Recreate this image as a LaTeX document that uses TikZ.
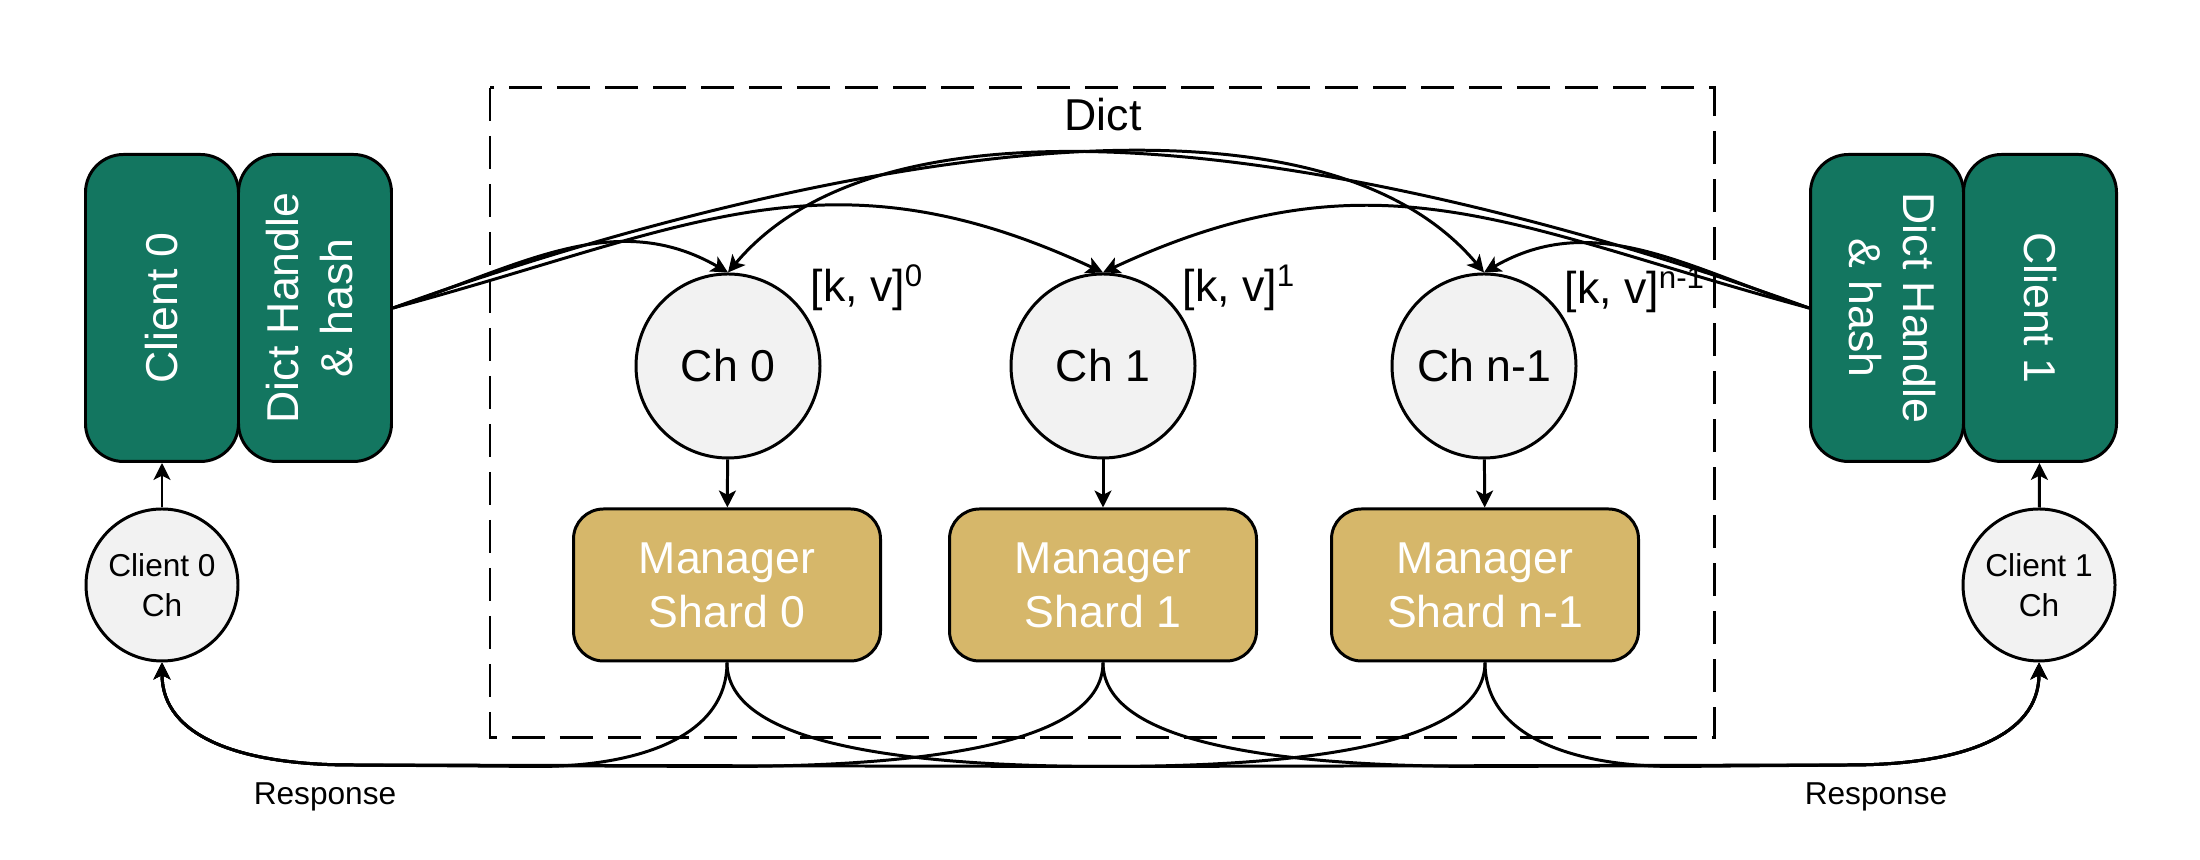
\documentclass[tikz,border=0pt]{standalone}
\usepackage{fontspec}
\setmainfont{Liberation Sans}
\usepackage{graphicx}
\usetikzlibrary{arrows.meta,calc}

\definecolor{clientgreen}{RGB}{19,118,96}
\definecolor{shardgold}{RGB}{214,183,106}
\definecolor{chgray}{RGB}{242,242,242}

\tikzset{
  big/.style={font=\fontsize{12.7}{15.3}\selectfont},
  small/.style={font=\fontsize{9}{11.4}\selectfont},
  clientbox/.style={draw, line width=0.85pt, fill=clientgreen, text=white,
    rounded corners=3.8mm, minimum width=15.3mm, minimum height=30.7mm, inner sep=0pt, big},
  shardbox/.style={draw, line width=0.85pt, fill=shardgold, text=white,
    rounded corners=3mm, minimum width=30.7mm, minimum height=15.2mm, align=center, big},
  chan/.style={draw, circle, line width=0.85pt, fill=chgray, minimum size=18.4mm, inner sep=0pt, big},
  clientch/.style={chan, minimum size=15.2mm, align=center, small},
  link/.style={line width=0.85pt, -{Stealth[length=4.8pt,width=4.8pt,inset=1.2pt]}},
}

\begin{document}
\begin{tikzpicture}[x=0.1mm,y=0.1mm]
    \useasboundingbox (0,0) rectangle (2200,860);

    % dict frame
    \draw[line width=0.85pt, dash pattern=on 3.3mm off 1.5mm] (490,772) rectangle (1714,122);
    \node[big] (dict) at (1103,745) {Dict};

    % clients
    \node[clientbox] (client0) at (162,552) {\rotatebox{90}{Client 0}};
    \node[clientbox] (dhL) at (315,552) {\rotatebox{90}{\begin{tabular}{@{}c@{}}Dict Handle\\ \& hash\end{tabular}}};
    \node[clientbox] (dhR) at (1887,552) {\rotatebox{-90}{\begin{tabular}{@{}c@{}}Dict Handle\\ \& hash\end{tabular}}};
    \node[clientbox] (client1) at (2040,552) {\rotatebox{-90}{Client 1}};

    \node[clientch] (c0ch) at (162,275) {Client 0\\Ch};
    \node[clientch] (c1ch) at (2039,275) {Client 1\\Ch};

    % channels and shards
    \node[chan] (ch0) at (728,494) {Ch 0};
    \node[chan] (ch1) at (1103,494) {Ch 1};
    \node[chan] (chn) at (1484,494) {Ch n-1};

    \node[big, anchor=base west, inner sep=0pt] (kv0) at (810,558) {[k, v]\textsuperscript{0}};
    \node[big, anchor=base west, inner sep=0pt] (kv1) at (1182,558) {[k, v]\textsuperscript{1}};
    \node[big, anchor=base west, inner sep=0pt] (kvn) at (1564,556) {[k, v]\textsuperscript{n-1}};

    \node[shardbox] (ms0) at (727,275) {Manager\\Shard 0};
    \node[shardbox] (ms1) at (1103,275) {Manager\\Shard 1};
    \node[shardbox] (msn) at (1485,275) {Manager\\Shard n-1};

    \node[small, anchor=base] (resp0) at (325,55) {Response};
    \node[small, anchor=base] (resp1) at (1876,55) {Response};

    % requests
    \draw[link] (dhL.east) to[out=18,in=150] (ch0.north);
    \draw[link] (dhL.east) to[out=15,in=155,looseness=1.1] (ch1.north);
    \draw[link] (dhL.east) to[out=20,in=130,looseness=0.72] (chn.north);
    \draw[link] (dhR.west) to[out=160,in=50,looseness=0.72] (ch0.north);
    \draw[link] (dhR.west) to[out=165,in=25,looseness=1.1] (ch1.north);
    \draw[link] (dhR.west) to[out=162,in=30] (chn.north);

    \draw[link] (ch0) -- (ms0);
    \draw[link] (ch1) -- (ms1);
    \draw[link] (chn) -- (msn);
    \draw[link] (c0ch) -- (client0);
    \draw[link] (c1ch) -- (client1);

    % responses
    \coordinate (c0bus) at (352,95);
    \coordinate (c1bus) at (1849,95);
    \draw[link] (ms0.south) .. controls +(0,-75) and +(100,0) .. ($(ms0.south)+(-190,-104)$)
        -- (c0bus) .. controls +(-110,0) and +(0,-75) .. (c0ch.south);
    \draw[link] (ms0.south) .. controls +(0,-70) and +(-250,0) .. ($(ms0.south)+(380,-104)$)
        -- (c1bus) .. controls +(110,0) and +(0,-75) .. (c1ch.south);
    \draw[link] (ms1.south) .. controls +(0,-70) and +(250,0) .. ($(ms1.south)+(-380,-104)$)
        -- (c0bus) .. controls +(-110,0) and +(0,-75) .. (c0ch.south);
    \draw[link] (ms1.south) .. controls +(0,-70) and +(-250,0) .. ($(ms1.south)+(380,-104)$)
        -- (c1bus) .. controls +(110,0) and +(0,-75) .. (c1ch.south);
    \draw[link] (msn.south) .. controls +(0,-70) and +(250,0) .. ($(msn.south)+(-380,-104)$)
        -- (c0bus) .. controls +(-110,0) and +(0,-75) .. (c0ch.south);
    \draw[link] (msn.south) .. controls +(0,-75) and +(-100,0) .. ($(msn.south)+(190,-104)$)
        -- (c1bus) .. controls +(110,0) and +(0,-75) .. (c1ch.south);
\end{tikzpicture}
\end{document}
